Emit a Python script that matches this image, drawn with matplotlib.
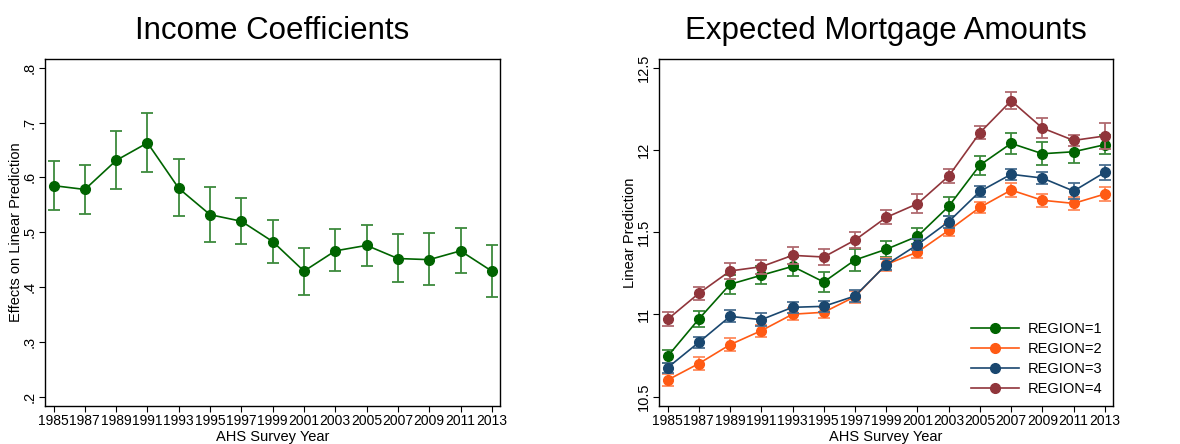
import numpy as np
import matplotlib
matplotlib.use("Agg")
import matplotlib.pyplot as plt

years = [1985, 1987, 1989, 1991, 1993, 1995, 1997, 1999,
         2001, 2003, 2005, 2007, 2009, 2011, 2013]

# left panel: income coefficients with CI
income_coef = [0.585, 0.578, 0.631, 0.663, 0.580, 0.532, 0.520, 0.483,
               0.429, 0.466, 0.476, 0.452, 0.450, 0.466, 0.429]
income_lo = [0.541, 0.533, 0.578, 0.610, 0.529, 0.483, 0.478, 0.443,
             0.386, 0.429, 0.438, 0.409, 0.403, 0.425, 0.382]
income_hi = [0.630, 0.623, 0.684, 0.717, 0.633, 0.583, 0.563, 0.522,
             0.472, 0.505, 0.514, 0.496, 0.498, 0.508, 0.477]

# right panel: predicted mortgage amounts by region (value, half-width of CI)
region_labels = ["REGION=1", "REGION=2", "REGION=3", "REGION=4"]
region1 = [10.745, 10.972, 11.183, 11.238, 11.292, 11.197, 11.331, 11.396,
           11.475, 11.657, 11.908, 12.040, 11.977, 11.989, 12.032]
region1_ci = [0.038, 0.050, 0.058, 0.056, 0.056, 0.058, 0.068, 0.049,
              0.049, 0.056, 0.058, 0.065, 0.069, 0.071, 0.057]
region2 = [10.601, 10.701, 10.816, 10.901, 11.001, 11.013, 11.108, 11.304,
           11.379, 11.511, 11.651, 11.756, 11.694, 11.675, 11.732]
region2_ci = [0.035, 0.038, 0.040, 0.037, 0.038, 0.035, 0.036, 0.040,
              0.038, 0.036, 0.035, 0.040, 0.038, 0.040, 0.042]
region3 = [10.676, 10.830, 10.988, 10.968, 11.043, 11.049, 11.112, 11.302,
           11.424, 11.564, 11.748, 11.852, 11.829, 11.750, 11.864]
region3_ci = [0.030, 0.034, 0.036, 0.040, 0.035, 0.035, 0.035, 0.035,
              0.034, 0.036, 0.033, 0.035, 0.037, 0.050, 0.045]
region4 = [10.970, 11.128, 11.264, 11.290, 11.359, 11.349, 11.452, 11.590,
           11.673, 11.841, 12.105, 12.299, 12.133, 12.058, 12.085]
region4_ci = [0.043, 0.040, 0.048, 0.042, 0.053, 0.047, 0.048, 0.042,
              0.057, 0.041, 0.040, 0.051, 0.062, 0.035, 0.079]

line_colors = ["#006400", "#ff5a14", "#1a476f", "#90353b"]
bar_colors = ["#3d8a3d", "#ff8a5c", "#4a6e90", "#b06a6f"]

plt.rcParams["font.family"] = ["Liberation Sans", "DejaVu Sans"]

fig = plt.figure(figsize=(11.8, 4.44), dpi=100)
ax1 = fig.add_axes([0.0381, 0.0856, 0.3856, 0.7815])
ax2 = fig.add_axes([0.5585, 0.0856, 0.3847, 0.7815])

x = np.array(years)
yerr = [np.array(income_coef) - np.array(income_lo),
        np.array(income_hi) - np.array(income_coef)]
ax1.errorbar(x, income_coef, yerr=yerr, fmt="none", ecolor=bar_colors[0],
             elinewidth=1.3, capsize=4, capthick=1.3)
ax1.plot(x, income_coef, color=line_colors[0], lw=1.2, marker="o", ms=7)
ax1.set_ylim(0.183, 0.816)
ax1.set_yticks([0.2, 0.3, 0.4, 0.5, 0.6, 0.7, 0.8])
ax1.set_yticklabels([".2", ".3", ".4", ".5", ".6", ".7", ".8"])
ax1.set_ylabel("Effects on Linear Prediction", fontsize=10.5, labelpad=0)
ax1.set_title("Income Coefficients", fontsize=22.5, pad=14.5)

series = [(region1, region1_ci), (region2, region2_ci),
          (region3, region3_ci), (region4, region4_ci)]
for (vals, ci), lab, lc, bc in zip(series, region_labels, line_colors, bar_colors):
    ax2.errorbar(x, vals, yerr=ci, fmt="none", ecolor=bc,
                 elinewidth=1.3, capsize=4, capthick=1.3)
    ax2.plot(x, vals, color=lc, lw=1.2, marker="o", ms=7, label=lab)
ax2.set_ylim(10.443, 12.553)
ax2.set_yticks([10.5, 11, 11.5, 12, 12.5])
ax2.set_yticklabels(["10.5", "11", "11.5", "12", "12.5"])
ax2.set_ylabel("Linear Prediction", fontsize=10.5, labelpad=0)
ax2.set_title("Expected Mortgage Amounts", fontsize=22.5, pad=14.5)
ax2.legend(loc="lower right", frameon=False, fontsize=10.5,
           handlelength=3.3, labelspacing=0.4, borderaxespad=0.3,
           handletextpad=0.6)

for ax in (ax1, ax2):
    ax.set_xlim(1984.45, 2013.52)
    ax.set_xticks(years)
    ax.set_xticklabels([str(y) for y in years], fontsize=10)
    ax.set_xlabel("AHS Survey Year", fontsize=10.5, labelpad=1)
    ax.tick_params(axis="y", labelsize=10.5, labelrotation=90)
    for lbl in ax.get_yticklabels():
        lbl.set_verticalalignment("center")
    ax.tick_params(direction="out", length=4, width=0.8, pad=2)
    for sp in ax.spines.values():
        sp.set_linewidth(1.0)

fig.savefig("out.png", dpi=100)
